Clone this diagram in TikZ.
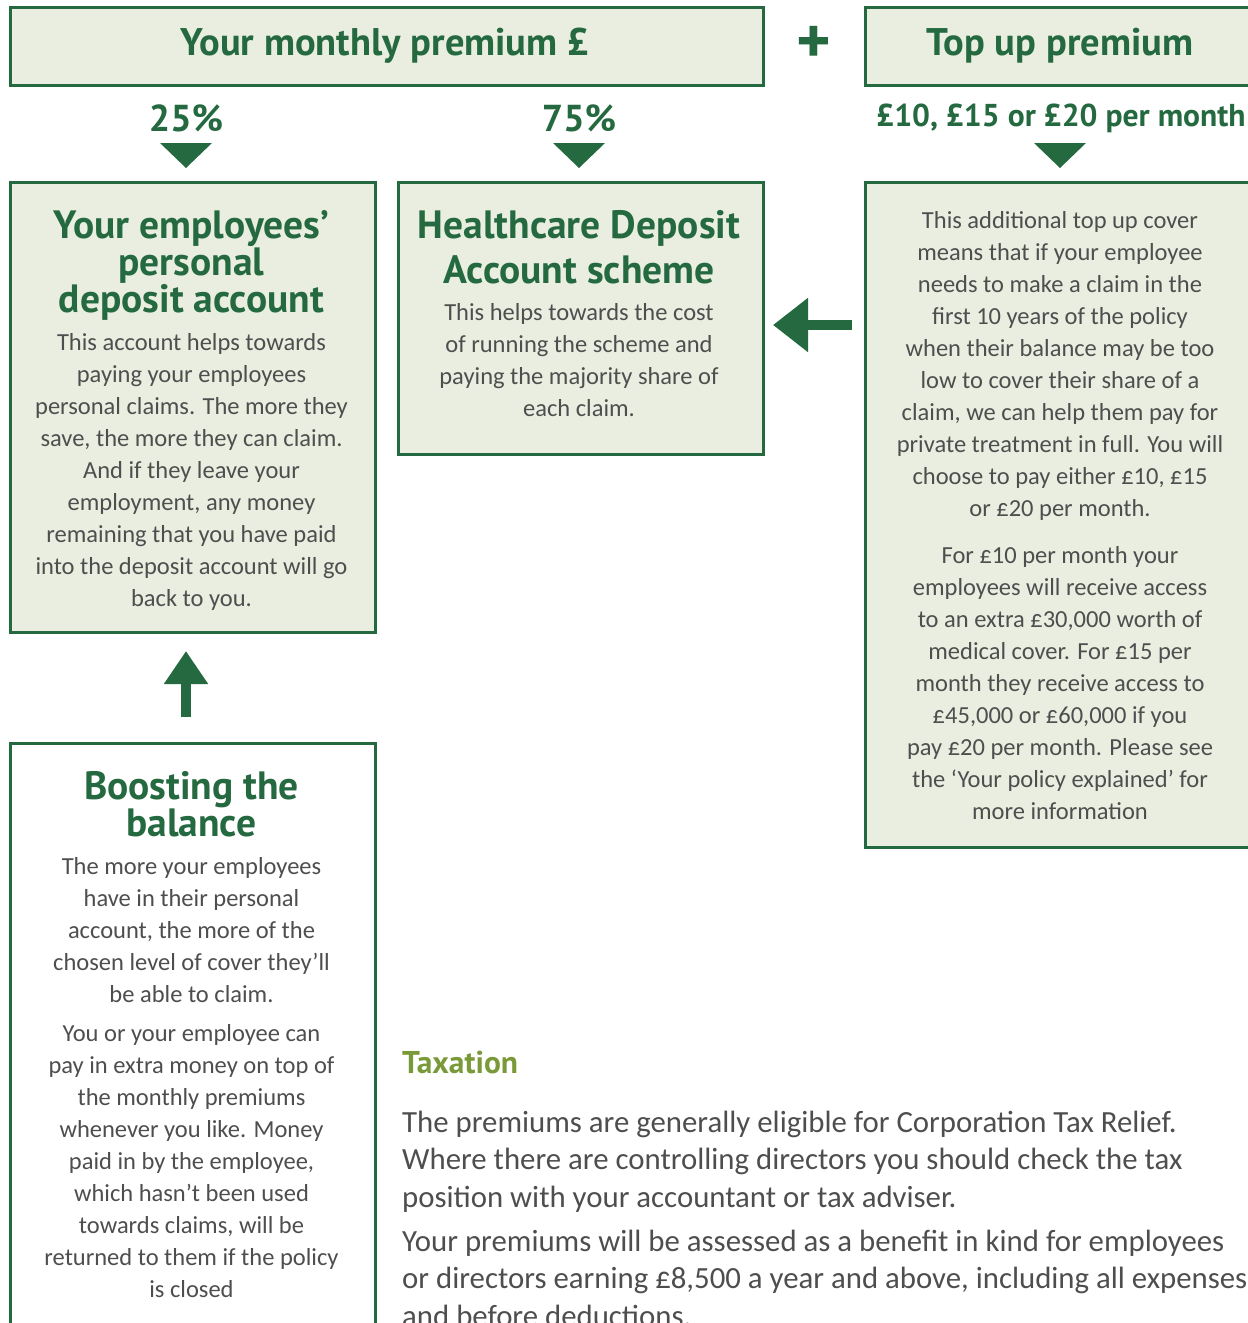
\documentclass[tikz,border=0pt]{standalone}
\usepackage{fontspec}
\setmainfont{Carlito}
\newfontfamily\hfont{PT Sans}
\usetikzlibrary{arrows.meta,calc}
\definecolor{dg}{HTML}{24693F}
\definecolor{lf}{HTML}{E9EEE0}
\definecolor{olivehead}{HTML}{7A9A3A}
\definecolor{tx}{HTML}{4E4E4E}
\begin{document}
\begin{tikzpicture}[x=1pt,y=-1pt,
  box/.style={draw=dg,line width=3pt,fill=lf,inner sep=0pt,anchor=north west},
  wbox/.style={box,fill=white},
  bighead/.style={text=dg,font=\hfont\bfseries\fontsize{38.5}{42}\selectfont,inner sep=0pt},
  pct/.style={text=dg,font=\hfont\bfseries\fontsize{37.5}{40}\selectfont,inner sep=0pt},
  boxtitle/.style={text=dg,align=center,inner sep=0pt,anchor=north},
  body/.style={text=tx,align=center,inner sep=0pt,anchor=north,font=\fontsize{24.5}{32}\selectfont},
  taxbody/.style={text=tx,align=left,inner sep=0pt,anchor=north west,font=\fontsize{30.8}{37.3}\selectfont},
  tri/.style={fill=dg},
  bigarrow/.style={draw=dg,line width=10pt,-{Triangle[width=52pt,length=35pt]}},
  uparrow/.style={draw=dg,line width=10pt,-{Triangle[width=42pt,length=33pt]}}
]
\useasboundingbox (0,0) rectangle (1248,1323);
\clip (0,0) rectangle (1248,1323);

% boxes
\node[box,minimum width=753pt,minimum height=78pt] (top1) at (9,6) {};
\node[box,minimum width=392pt,minimum height=78pt] (top2) at (864,6) {};
\node[box,minimum width=365pt,minimum height=450pt] (A) at (9,181) {};
\node[box,minimum width=365pt,minimum height=272pt] (B) at (397,181) {};
\node[box,minimum width=392pt,minimum height=665pt] (C) at (864,181) {};
\node[wbox,minimum width=365pt,minimum height=640pt] (D) at (9,742) {};

% top headings
\node[bighead] (t1) at (385,46) {Your monthly premium £};
\node[bighead,font=\hfont\bfseries\fontsize{66}{70}\selectfont] (plus) at (814,45) {+};
\node[bighead] (t2) at (1060,46) {Top up premium};

\node[pct] (p25) at (186,118) {25\%};
\node[pct] (p75) at (579,118) {75\%};
\node[pct,font=\hfont\bfseries\fontsize{31.6}{34}\selectfont] (ptop) at (1061,118) {£10, £15 or £20 per month};

% down triangles
\fill[tri] (160,143) -- (212,143) -- (186,168) -- cycle;
\fill[tri] (553,143) -- (605,143) -- (579,168) -- cycle;
\fill[tri] (1034,143) -- (1086,143) -- (1060,168) -- cycle;

% box A
\node[boxtitle,font=\hfont\bfseries\fontsize{39.5}{37}\selectfont] (Atitle) at (191.5,210)
  {Your employees’\\personal\\deposit account};
\node[body] (Abody) at (191.5,333)
  {This account helps towards\\paying your employees\\personal claims. The more they\\save, the more they can claim.\\And if they leave your\\employment, any money\\remaining that you have paid\\into the deposit account will go\\back to you.};

% box B
\node[boxtitle,font=\hfont\bfseries\fontsize{39.5}{45}\selectfont] (Btitle) at (579,210)
  {Healthcare Deposit\\Account scheme};
\node[body] (Bbody) at (579,303)
  {This helps towards the cost\\of running the scheme and\\paying the majority share of\\each claim.};

% box C
\node[body] (Cbody1) at (1060,211)
  {This additional top up cover\\means that if your employee\\needs to make a claim in the\\first 10 years of the policy\\when their balance may be too\\low to cover their share of a\\claim, we can help them pay for\\private treatment in full. You will\\choose to pay either £10, £15\\or £20 per month.};
\node[body] (Cbody2) at (1060,546)
  {For £10 per month your\\employees will receive access\\to an extra £30,000 worth of\\medical cover. For £15 per\\month they receive access to\\£45,000 or £60,000 if you\\pay £20 per month. Please see\\the ‘Your policy explained’ for\\more information};

% box D
\node[boxtitle,font=\hfont\bfseries\fontsize{39.5}{36}\selectfont] (Dtitle) at (191.5,771)
  {Boosting the\\balance};
\node[body] (Dbody1) at (191.5,857)
  {The more your employees\\have in their personal\\account, the more of the\\chosen level of cover they’ll\\be able to claim.};
\node[body] (Dbody2) at (191.5,1024)
  {You or your employee can\\pay in extra money on top of\\the monthly premiums\\whenever you like. Money\\paid in by the employee,\\which hasn’t been used\\towards claims, will be\\returned to them if the policy\\is closed};

% arrows
\coordinate (la) at (852,325);
\draw[bigarrow,shorten >=8pt] (la) -- (B.east |- la);
\coordinate (ua) at (186,717);
\coordinate (ub) at (186,631);
\draw[uparrow] (ua) -- ($(ub)+(0,20)$);

% taxation
\node[text=olivehead,font=\hfont\bfseries\fontsize{31.5}{34}\selectfont,inner sep=0pt,anchor=west] (tax) at (402,1063) {Taxation};
\node[taxbody] (tax1) at (402,1111)
  {The premiums are generally eligible for Corporation Tax Relief.\\Where there are controlling directors you should check the tax\\position with your accountant or tax adviser.};
\node[taxbody] (tax2) at (402,1230)
  {Your premiums will be assessed as a benefit in kind for employees\\or directors earning £8,500 a year and above, including all expenses\\and before deductions.};
\end{tikzpicture}
\end{document}
